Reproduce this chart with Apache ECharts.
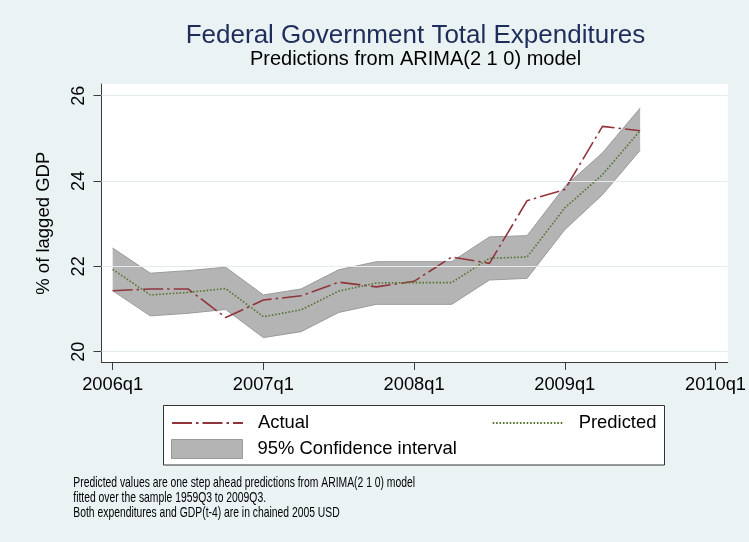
<!DOCTYPE html>
<html>
<head>
<meta charset="utf-8">
<script src="https://cdn.jsdelivr.net/npm/echarts@6/dist/echarts.min.js"></script>
<style>html,body{margin:0;padding:0;background:#eaf2f3}#c{width:749px;height:542px}</style>
</head>
<body>
<div id="c"></div>
<script>
// Quarters shown (x position = index, 2006q1 = 0)
const quarters = ['2006q1','2006q2','2006q3','2006q4','2007q1','2007q2','2007q3','2007q4',
                  '2008q1','2008q2','2008q3','2008q4','2009q1','2009q2','2009q3'];
const actual    = [21.43,21.47,21.47,20.80,21.21,21.31,21.63,21.52,21.65,22.22,22.07,23.54,23.80,25.28,25.18];
const predicted = [21.93,21.33,21.39,21.48,20.82,20.98,21.42,21.61,21.62,21.62,22.19,22.22,23.37,24.15,25.18];
const ciUpper   = [22.43,21.84,21.90,21.98,21.33,21.47,21.92,22.11,22.11,22.11,22.69,22.72,23.87,24.66,25.71];
const ciLower   = [21.43,20.84,20.90,20.99,20.33,20.47,20.92,21.11,21.11,21.11,21.68,21.72,22.86,23.68,24.72];

const xTickValues = [0, 4, 8, 12, 16];
const xTickLabels = ['2006q1','2007q1','2008q1','2009q1','2010q1'];
const yTickValues = [20, 22, 24, 26];

const noteLines = [
  'Predicted values are one step ahead predictions from ARIMA(2 1 0) model',
  'fitted over the sample 1959Q3 to 2009Q3.',
  'Both expenditures and GDP(t-4) are in chained 2005 USD'
];

const FONT = '"Liberation Sans", Arial, Helvetica, sans-serif';
const pts = arr => arr.map((v, i) => [i, v]);
const bandData = quarters.map((q, i) => [i, ciLower[i], ciUpper[i]]);

const AX = '#3a3a3a';
const BAND_FILL = '#b4b4b4';
const BAND_EDGE = '#9a9a9a';
const chart = echarts.init(document.getElementById('c'), null, {renderer: 'canvas'});

const legendCommon = {
  orient: 'horizontal', padding: 0, selectedMode: false, itemGap: 0,
  itemWidth: 71, itemHeight: 14,
  textStyle: {fontSize: 18.4, color: '#000', fontFamily: FONT, padding: [0, 0, 0, 10]}
};

const option = {
  backgroundColor: '#eaf2f3',
  animation: false,
  textStyle: {fontFamily: FONT},
  grid: {left: 101.5, top: 84, width: 628.5, height: 278.5, show: true,
         backgroundColor: '#ffffff', borderWidth: 0, containLabel: false},
  xAxis: {
    type: 'value', min: -0.296, max: 16.326,
    axisLine: {show: true, onZero: false, lineStyle: {color: AX, width: 1}},
    axisTick: {show: true, customValues: xTickValues, length: 7.5, lineStyle: {color: AX, width: 1}},
    axisLabel: {customValues: xTickValues, formatter: v => xTickLabels[xTickValues.indexOf(v)],
                fontSize: 18.3, color: '#000', margin: 13.5, fontFamily: FONT},
    splitLine: {show: false}
  },
  yAxis: {
    type: 'value', min: 19.747, max: 26.274,
    name: '% of lagged GDP', nameLocation: 'middle', nameGap: 48, nameRotate: 90,
    nameTextStyle: {fontSize: 18.5, color: '#000', fontFamily: FONT},
    axisLine: {show: true, onZero: false, lineStyle: {color: AX, width: 1}},
    axisTick: {show: true, customValues: yTickValues, length: 8, lineStyle: {color: AX, width: 1}},
    axisLabel: {customValues: yTickValues, rotate: 90, fontSize: 18, margin: 13, color: '#000', fontFamily: FONT},
    splitLine: {show: false}
  },
  legend: [
    Object.assign({}, legendCommon, {data: [{name: 'Actual', itemStyle: {opacity: 0}}], left: 171, top: 414}),
    Object.assign({}, legendCommon, {data: [{name: 'Predicted', itemStyle: {opacity: 0}}], left: 491.7, top: 414}),
    Object.assign({}, legendCommon, {
      data: [{name: '95% Confidence interval', icon: 'rect',
              itemStyle: {color: BAND_FILL, borderColor: BAND_EDGE, borderWidth: 1, opacity: 1}}],
      left: 171, top: 439, itemHeight: 19
    })
  ],
  graphic: [
    {type: 'rect', shape: {x: 163.5, y: 405.5, width: 501, height: 59.5},
     style: {fill: '#ffffff', stroke: '#333333', lineWidth: 1}, z: -1, silent: true},
    {type: 'text', x: 415.5, y: 36, silent: true,
     style: {text: 'Federal Government Total Expenditures', font: '26px ' + FONT, fill: '#1f2d5a',
             align: 'center', verticalAlign: 'middle'}},
    {type: 'text', x: 415.5, y: 59.5, silent: true,
     style: {text: 'Predictions from ARIMA(2 1 0) model', font: '20px ' + FONT, fill: '#000',
             align: 'center', verticalAlign: 'middle'}},
    ...noteLines.map((t, i) => ({
      type: 'text', x: 73.3, y: 482.5 + i * 15.4, scaleX: 0.69, silent: true,
      style: {text: t, font: '15px ' + FONT, fill: '#000', align: 'left', verticalAlign: 'middle'}
    }))
  ],
  series: [
    {name: 'gridlines', type: 'line', data: [], z: 1, silent: true, symbol: 'none',
     markLine: {silent: true, symbol: 'none', label: {show: false}, animation: false,
                lineStyle: {color: '#e2ebee', width: 1.2, type: 'solid'},
                data: yTickValues.map(v => ({yAxis: v}))}},
    {name: '95% Confidence interval', type: 'custom', data: bandData, silent: true, z: 2,
     itemStyle: {color: BAND_FILL},
     encode: {x: 0, y: [1, 2]},
     renderItem: (params, api) => {
       if (params.dataIndex !== 0) return null;
       const up = bandData.map(d => api.coord([d[0], d[2]]));
       const lo = bandData.map(d => api.coord([d[0], d[1]]));
       return {
         type: 'group',
         children: [
           {type: 'polygon', shape: {points: up.concat(lo.slice().reverse())},
            style: {fill: BAND_FILL, stroke: null}},
           {type: 'polyline', shape: {points: up}, style: {fill: null, stroke: BAND_EDGE, lineWidth: 1}},
           {type: 'polyline', shape: {points: lo}, style: {fill: null, stroke: BAND_EDGE, lineWidth: 1}}
         ]
       };
     }},
    {name: 'Actual', type: 'line', data: pts(actual), symbol: 'none', silent: true,
     itemStyle: {color: '#90353b'},
     lineStyle: {color: '#90353b', width: 1.6, type: [20, 4, 2.5, 4]}, z: 3},
    {name: 'Predicted', type: 'line', data: pts(predicted), symbol: 'none', silent: true,
     itemStyle: {color: '#55752f'},
     lineStyle: {color: '#55752f', width: 1.6, type: [1.6, 1.8]}, z: 3}
  ]
};
chart.setOption(option);
</script>
</body>
</html>
